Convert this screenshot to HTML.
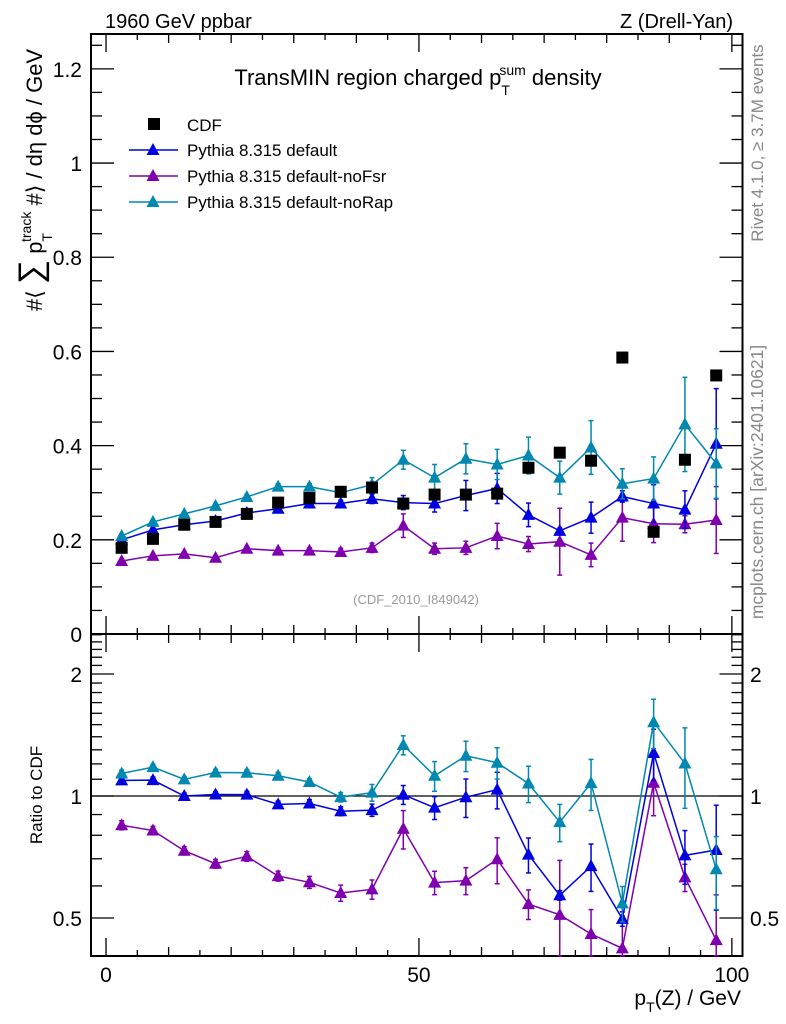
<!DOCTYPE html>
<html><head><meta charset="utf-8">
<style>
html,body{margin:0;padding:0;background:#fff;}
svg{display:block;font-family:"Liberation Sans",sans-serif;}
</style></head>
<body>
<svg id="chart" width="786" height="1024" viewBox="0 0 786 1024"></svg>
<script>
const xCenters=[2.5,7.5,12.5,17.5,22.5,27.5,32.5,37.5,42.5,47.5,52.5,57.5,62.5,67.5,72.5,77.5,82.5,87.5,92.5,97.5];
const cdfVals=[0.183,0.202,0.232,0.238,0.255,0.279,0.289,0.302,0.311,0.277,0.296,0.296,0.298,0.353,0.385,0.368,0.587,0.217,0.370,0.549];
const defVals=[0.200,0.221,0.232,0.240,0.257,0.266,0.277,0.277,0.287,0.279,0.277,0.294,0.309,0.253,0.219,0.247,0.292,0.277,0.264,0.404];
const defErr=[0.004,0.004,0.004,0.004,0.005,0.005,0.006,0.007,0.010,0.015,0.018,0.032,0.032,0.025,0.006,0.033,0.012,0.040,0.040,0.117];
const noFsrVals=[0.155,0.166,0.170,0.162,0.181,0.177,0.177,0.174,0.183,0.230,0.181,0.183,0.208,0.191,0.196,0.168,0.247,0.234,0.233,0.242];
const noFsrErr=[0.004,0.004,0.004,0.004,0.005,0.005,0.006,0.008,0.010,0.025,0.012,0.014,0.027,0.016,0.071,0.025,0.050,0.040,0.018,0.071];
const noRapVals=[0.208,0.238,0.255,0.272,0.291,0.313,0.313,0.300,0.317,0.370,0.332,0.372,0.360,0.379,0.332,0.396,0.319,0.330,0.445,0.362];
const noRapErr=[0.004,0.004,0.004,0.005,0.005,0.006,0.006,0.008,0.015,0.020,0.028,0.032,0.032,0.039,0.035,0.057,0.032,0.046,0.100,0.074];
const upperTicks=[0,0.2,0.4,0.6,0.8,1,1.2];
const upperTickLabels=["0","0.2","0.4","0.6","0.8","1","1.2"];
const ratioTicks=[0.5,1,2];
const ratioTickLabels=["0.5","1","2"];
const xTicks=[0,50,100];
const xTickLabels=["0","50","100"];
const seriesNames=["Pythia 8.315 default","Pythia 8.315 default-noFsr","Pythia 8.315 default-noRap"];
const seriesColors=["#0000e0","#8000b0","#0088b0"];

const NS="http://www.w3.org/2000/svg";
const svg=document.getElementById('chart');
const L=91,R=742.5,UT=34,UB=634,LT=634,LB=956;
const X0=-2.4,X1=101.7;
const sx=v=>L+(v-X0)/(X1-X0)*(R-L);
const Y0=0,Y1=1.274;
const sy=v=>UB-(v-Y0)/(Y1-Y0)*(UB-UT);
const yR=v=>796-Math.log2(v)*122;
function el(tag,attrs,parent){const e=document.createElementNS(NS,tag);for(const k in attrs)e.setAttribute(k,attrs[k]);(parent||svg).appendChild(e);return e;}
function txt(s,attrs,parent){const e=el('text',attrs,parent);e.textContent=s;return e;}

const f1=el('rect',{x:L,y:UT,width:R-L,height:UB-UT,fill:'none',stroke:'#000','stroke-width':2});


const f2=el('rect',{x:L,y:LT,width:R-L,height:LB-LT,fill:'none',stroke:'#000','stroke-width':2});



const xt=el('g',{stroke:'#000','stroke-width':1.3});


for(let v=0;v<=100;v+=5){
  const x=sx(v);const major=v%50===0;const len=major?18:(v%10===0?9:6);
  for(const [yb,dir] of [[UB,-1],[UT,1],[LB,-1],[LT,1]]){
    el('line',{x1:x,x2:x,y1:yb,y2:yb+dir*len},xt);
  }
}
xTicks.forEach((v,i)=>{const t=txt(xTickLabels[i],{x:sx(v),y:982,'font-size':21,'text-anchor':'middle'});

});

const yt=el('g',{stroke:'#000','stroke-width':1.3});


for(let i=0;i<=25;i++){const v=i*0.05;const y=sy(v);const major=i%4===0;const len=major?23:11;
  if(y<UT)continue;
  el('line',{x1:L,x2:L+len,y1:y,y2:y},yt);el('line',{x1:R,x2:R-len,y1:y,y2:y},yt);}
upperTicks.forEach((v,i)=>{const t=txt(upperTickLabels[i],{x:82,y:sy(v)+8,'font-size':21,'text-anchor':'end'});

});

const rt=el('g',{stroke:'#000','stroke-width':1.3});


const minors=[0.5,0.6,0.7,0.8,0.9,1,1.1,1.2,1.3,1.4,1.5,1.6,1.7,1.8,1.9,2,2.1,2.2,2.3,2.4,2.5];
minors.forEach(v=>{const y=yR(v);const major=ratioTicks.includes(v);const len=major?23:11;
  el('line',{x1:L,x2:L+len,y1:y,y2:y},rt);el('line',{x1:R,x2:R-len,y1:y,y2:y},rt);});
ratioTicks.forEach((v,i)=>{
  const t=txt(ratioTickLabels[i],{x:82,y:yR(v)+8,'font-size':21,'text-anchor':'end'});
  
  
  const t2=txt(ratioTickLabels[i],{x:750,y:yR(v)+8,'font-size':21,'text-anchor':'start'});
  
  
});
const one=el('line',{x1:L,x2:R,y1:yR(1),y2:yR(1),stroke:'#000','stroke-width':1.3});



function tri(x,y,c,g){el('polygon',{points:`${x},${y-7} ${x-6.5},${y+5} ${x+6.5},${y+5}`,fill:c},g);}
function drawSeries(vals,errs,color,name,ratio){
  const g=el('g',{});
  
  
  const fy=ratio?(i,v)=>yR(Math.max(v/cdfVals[i],0.01)):(i,v)=>sy(v);
  const pts=xCenters.map((x,i)=>[sx(x),fy(i,vals[i])]);
  el('polyline',{points:pts.map(p=>p.join(',')).join(' '),fill:'none',stroke:color,'stroke-width':1.5},g);
  xCenters.forEach((x,i)=>{
    const px=sx(x);
    let yt=fy(i,vals[i]+errs[i]),yb=fy(i,Math.max(vals[i]-errs[i],0.001));
    const lo=ratio?LT:UT,hi=ratio?LB:UB;
    yt=Math.max(yt,lo);yb=Math.min(yb,hi);
    el('line',{x1:px,x2:px,y1:yt,y2:yb,stroke:color,'stroke-width':1.5},g);
    el('line',{x1:px-2.5,x2:px+2.5,y1:yt,y2:yt,stroke:color,'stroke-width':1.5},g);
    el('line',{x1:px-2.5,x2:px+2.5,y1:yb,y2:yb,stroke:color,'stroke-width':1.5},g);
    tri(px,pts[i][1],color,g);
  });
}
drawSeries(noFsrVals,noFsrErr,seriesColors[1],'series-nofsr',false);
drawSeries(defVals,defErr,seriesColors[0],'series-default',false);
drawSeries(noRapVals,noRapErr,seriesColors[2],'series-norap',false);
const cg=el('g',{});


xCenters.forEach((x,i)=>{el('rect',{x:sx(x)-6,y:sy(cdfVals[i])-6,width:12,height:12,fill:'#000'},cg);});
drawSeries(noFsrVals,noFsrErr,seriesColors[1],'ratio-nofsr',true);
drawSeries(defVals,defErr,seriesColors[0],'ratio-default',true);
drawSeries(noRapVals,noRapErr,seriesColors[2],'ratio-norap',true);

const lg=el('g',{});


el('rect',{x:148,y:118,width:12,height:12,fill:'#000'},lg);
txt('CDF',{x:187,y:131,'font-size':17},lg);
seriesNames.forEach((n,i)=>{const y=150+i*26;
  el('line',{x1:129,x2:178,y1:y,y2:y,stroke:seriesColors[i],'stroke-width':1.5},lg);
  tri(153,y,seriesColors[i],lg);
  txt(n,{x:187,y:y+6,'font-size':17},lg);});
</script>
<svg width="786" height="1024" style="position:absolute;left:0;top:0">
<text x="105" y="28" font-size="20" font-family="Liberation Sans, sans-serif">1960 GeV ppbar</text>
<text x="733" y="28" font-size="20" text-anchor="end" font-family="Liberation Sans, sans-serif">Z (Drell-Yan)</text>
<text x="418" y="85" font-size="22" text-anchor="middle" font-family="Liberation Sans, sans-serif">TransMIN region charged p<tspan font-size="14" dy="10">T</tspan><tspan font-size="14" dx="-9" dy="-20">sum</tspan><tspan dy="10"> density</tspan></text>
<text x="416" y="604" font-size="13" fill="#999" text-anchor="middle" font-family="Liberation Sans, sans-serif">(CDF_2010_I849042)</text>
<text transform="translate(763,143) rotate(-90)" font-size="17" fill="#888" text-anchor="middle" font-family="Liberation Sans, DejaVu Sans, sans-serif">Rivet 4.1.0, ≥ 3.7M events</text>
<text transform="translate(763,482) rotate(-90)" font-size="17.5" fill="#888" text-anchor="middle" font-family="Liberation Sans, sans-serif">mcplots.cern.ch [arXiv:2401.10621]</text>
<text transform="translate(42,180) rotate(-90)" font-size="22" text-anchor="middle" font-family="Liberation Sans, DejaVu Sans, sans-serif">#⟨ <tspan font-size="34">∑</tspan> p<tspan font-size="14" dy="10">T</tspan><tspan font-size="14" dx="-9" dy="-21">track</tspan><tspan dy="11"> #⟩ / dη dϕ / GeV</tspan></text>
<text transform="translate(42,795) rotate(-90)" font-size="17" text-anchor="middle" font-family="Liberation Sans, sans-serif">Ratio to CDF</text>
<text x="741" y="1005" font-size="21" text-anchor="end" font-family="Liberation Sans, sans-serif">p<tspan font-size="14" dy="7">T</tspan><tspan dy="-7">(Z) / GeV</tspan></text>
</svg>
</body></html>
